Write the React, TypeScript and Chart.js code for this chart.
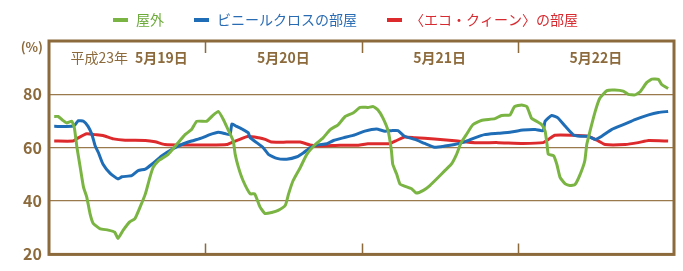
import React, { useEffect, useRef } from "react";
import { Chart, registerables } from "chart.js";

Chart.register(...registerables);

// ---- data (hours since 0:00 on 5/19, relative humidity %) ----
const outdoorHours = [0.8, 1.4, 2.0, 2.7, 3.5, 3.9, 4.3, 4.8, 5.3, 5.8, 6.3, 6.8, 7.8, 9.1, 10.1, 10.6, 11.4, 12.4, 13.2, 14.0, 14.8, 15.5, 16.0, 16.8, 18.3, 19.6, 20.9, 21.9, 22.7, 24.2, 25.0, 26.0, 26.8, 27.5, 28.3, 28.6, 29.1, 29.8, 30.9, 31.6, 32.4, 33.2, 34.2, 35.2, 36.3, 36.8, 37.5, 38.6, 39.6, 40.9, 42.1, 43.2, 44.4, 45.5, 46.7, 47.8, 49.0, 49.8, 50.5, 51.3, 52.1, 52.6, 52.8, 53.4, 53.9, 54.6, 55.7, 56.4, 57.5, 58.5, 59.8, 60.8, 61.8, 62.6, 63.3, 64.1, 65.1, 66.4, 68.5, 69.5, 70.8, 71.5, 72.6, 73.4, 74.1, 74.9, 75.7, 76.2, 76.5, 76.7, 77.5, 78.0, 78.5, 79.3, 80.0, 80.8, 81.6, 82.3, 82.6, 83.1, 83.9, 84.6, 85.7, 86.9, 88.2, 89.0, 90.0, 90.8, 91.8, 92.6, 93.6, 94.1, 95.1];
const outdoorValues = [71.7, 71.7, 70.5, 69.3, 69.9, 67.4, 60.0, 52.6, 45.2, 41.5, 35.3, 31.6, 29.7, 29.1, 28.3, 26.0, 29.1, 32.2, 33.4, 37.8, 42.7, 48.9, 52.6, 55.1, 57.5, 61.2, 64.9, 66.8, 69.9, 69.9, 71.7, 73.6, 70.5, 66.8, 62.5, 57.5, 52.6, 47.7, 42.7, 42.7, 37.8, 35.3, 35.7, 36.5, 38.4, 42.7, 47.7, 52.6, 57.5, 61.2, 63.7, 66.8, 68.6, 71.7, 73.0, 75.1, 75.1, 75.4, 74.2, 71.1, 66.2, 58.8, 53.8, 50.1, 46.4, 45.6, 44.6, 43.0, 44.0, 45.8, 48.9, 51.4, 53.8, 57.5, 61.9, 64.9, 68.6, 70.2, 70.9, 72.1, 72.3, 75.4, 76.0, 75.4, 71.1, 69.9, 68.6, 66.2, 61.2, 57.5, 57.0, 53.8, 48.9, 46.4, 45.8, 46.2, 50.1, 55.1, 61.2, 66.2, 73.6, 78.5, 81.4, 81.6, 81.2, 80.0, 79.8, 81.0, 84.4, 85.7, 85.6, 83.7, 82.2];

const vinylHours = [0.8, 3.5, 4.0, 4.5, 5.3, 6.0, 6.6, 7.1, 7.6, 8.3, 9.4, 10.6, 11.2, 12.7, 13.7, 14.8, 15.8, 17.3, 18.9, 20.4, 21.9, 23.5, 24.7, 26.0, 27.0, 27.8, 28.1, 28.8, 29.8, 30.6, 30.9, 31.9, 32.9, 33.7, 35.0, 36.5, 38.1, 39.1, 40.1, 41.1, 42.7, 43.7, 45.2, 46.7, 48.5, 50.3, 51.6, 52.6, 53.6, 54.6, 56.2, 57.7, 59.2, 60.8, 62.3, 63.9, 65.4, 66.9, 69.0, 71.0, 72.8, 74.7, 75.9, 76.2, 77.2, 78.2, 79.3, 80.5, 81.6, 82.8, 83.9, 84.9, 86.4, 88.5, 90.0, 92.1, 93.6, 95.1];
const vinylValues = [68.0, 68.0, 68.6, 70.1, 69.9, 68.0, 64.9, 60.6, 58.1, 53.8, 50.4, 48.3, 49.1, 49.5, 51.4, 52.0, 53.8, 56.9, 59.4, 61.2, 62.5, 63.7, 64.9, 65.8, 65.3, 64.9, 68.9, 68.0, 66.8, 65.6, 63.7, 61.9, 60.0, 57.5, 56.0, 55.7, 56.6, 58.1, 60.0, 61.0, 61.5, 62.7, 63.7, 64.6, 66.2, 67.0, 66.2, 66.4, 66.4, 64.3, 63.1, 61.6, 60.2, 60.6, 61.2, 62.2, 63.7, 64.9, 65.4, 65.9, 66.6, 66.8, 66.4, 69.9, 72.1, 71.1, 68.0, 64.9, 64.3, 64.3, 63.1, 64.3, 66.8, 68.9, 70.5, 72.3, 73.2, 73.6];

const ecoHours = [0.8, 3.7, 4.5, 5.8, 7.1, 8.3, 9.9, 11.7, 14.8, 16.3, 17.8, 20.9, 24.7, 27.3, 28.3, 29.3, 30.6, 32.2, 33.2, 34.2, 36.5, 38.6, 40.1, 41.6, 44.7, 47.5, 49.0, 52.3, 53.4, 54.6, 56.2, 59.2, 62.8, 65.4, 69.0, 72.8, 75.9, 76.7, 77.7, 80.3, 82.8, 84.4, 85.4, 88.5, 90.5, 92.1, 95.1];
const ecoValues = [62.5, 62.5, 63.7, 65.2, 64.9, 64.6, 63.3, 62.8, 62.7, 62.2, 61.2, 61.0, 61.0, 61.2, 62.2, 63.1, 64.3, 63.7, 63.1, 62.1, 62.1, 62.1, 61.0, 60.6, 60.9, 60.9, 61.5, 61.5, 62.7, 64.0, 63.7, 63.3, 62.5, 61.9, 61.9, 61.6, 61.9, 63.1, 64.7, 64.7, 64.3, 62.5, 61.2, 61.2, 61.9, 62.7, 62.5];

const seriesNames = ["屋外", "ビニールクロスの部屋", "〈エコ・クィーン〉の部屋"];
const dayLabels = ["5月19日", "5月20日", "5月21日", "5月22日"];
const eraLabel = "平成23年";
const yUnitLabel = "(%)";
const dayBoundaries = [24, 48, 72];
const dayCenters = [12, 36, 60, 84];

// ---- styles ----
const GREEN = "#7ab442";
const BLUE = "#1f6db6";
const RED = "#dd2a2c";
const BROWN = "#8c6a3c";
const GRID = "#9a7a4c";
const LEGEND_TEXT = ["#6caa3a", "#2a6cb4", "#d72a30"];
const FONT = '"Noto Sans CJK JP", "Noto Sans", sans-serif';

function toPoints(xs: number[], ys: number[]) {
  return xs.map((x, i) => ({ x, y: ys[i] }));
}

const decorPlugin = {
  id: "decor",
  afterDraw(chart: any) {
    const { ctx, chartArea: a, scales } = chart;
    const x = scales.x;
    const y = scales.y;
    ctx.save();

    // frame
    ctx.strokeStyle = BROWN;
    ctx.lineWidth = 3;
    ctx.strokeRect(a.left, a.top, a.right - a.left, a.bottom - a.top);

    // day separator ticks
    ctx.lineWidth = 1.5;
    dayBoundaries.forEach((h) => {
      const px = Math.round(x.getPixelForValue(h)) + 0.5;
      ctx.beginPath();
      ctx.moveTo(px, a.top);
      ctx.lineTo(px, a.top + 12);
      ctx.moveTo(px, a.bottom - 11);
      ctx.lineTo(px, a.bottom);
      ctx.stroke();
    });

    // date labels
    ctx.fillStyle = BROWN;
    ctx.textBaseline = "middle";
    const ly = a.top + 17;
    dayCenters.forEach((h, i) => {
      const cx = x.getPixelForValue(h);
      ctx.font = `bold 14px ${FONT}`;
      const dw = ctx.measureText(dayLabels[i]).width;
      if (i === 0) {
        ctx.font = `14px ${FONT}`;
        const ew = ctx.measureText(eraLabel).width;
        const gap = 7;
        const total = ew + gap + dw;
        const sx = cx - total / 2 + 2;
        ctx.textAlign = "left";
        ctx.fillText(eraLabel, sx, ly);
        ctx.font = `bold 14px ${FONT}`;
        ctx.fillText(dayLabels[i], sx + ew + gap, ly);
      } else {
        ctx.textAlign = "center";
        ctx.fillText(dayLabels[i], cx, ly);
      }
    });

    // unit label
    ctx.font = `bold 13px ${FONT}`;
    ctx.textAlign = "right";
    ctx.fillText(yUnitLabel, a.left - 6, y.getPixelForValue(100) + 6);

    // legend
    const colors = [GREEN, BLUE, RED];
    ctx.font = `14px ${FONT}`;
    const dash = 15;
    const dashGap = 8;
    const itemGap = 30;
    const widths = seriesNames.map((s) => ctx.measureText(s).width);
    const total =
      widths.reduce((p, w) => p + w + dash + dashGap, 0) + itemGap * (seriesNames.length - 1);
    let sx = chart.width / 2 + 4 - total / 2;
    const legY = 20;
    seriesNames.forEach((s, i) => {
      ctx.fillStyle = colors[i];
      ctx.fillRect(sx, legY - 2, dash, 4);
      sx += dash + dashGap;
      ctx.fillStyle = LEGEND_TEXT[i];
      ctx.textAlign = "left";
      ctx.fillText(s, sx, legY);
      sx += widths[i] + itemGap;
    });

    ctx.restore();
  },
};

export default function App() {
  const canvasRef = useRef<HTMLCanvasElement | null>(null);

  useEffect(() => {
    document.body.style.margin = "0";
    const canvas = canvasRef.current;
    if (!canvas) return;
    const chart = new Chart(canvas, {
      type: "line",
      data: {
        datasets: [
          {
            label: seriesNames[0],
            data: toPoints(outdoorHours, outdoorValues),
            borderColor: GREEN,
            backgroundColor: GREEN,
            borderWidth: 3,
            pointRadius: 0,
            tension: 0.15,
          },
          {
            label: seriesNames[1],
            data: toPoints(vinylHours, vinylValues),
            borderColor: BLUE,
            backgroundColor: BLUE,
            borderWidth: 3,
            pointRadius: 0,
            tension: 0.15,
          },
          {
            label: seriesNames[2],
            data: toPoints(ecoHours, ecoValues),
            borderColor: RED,
            backgroundColor: RED,
            borderWidth: 3,
            pointRadius: 0,
            tension: 0.15,
          },
        ],
      },
      options: {
        animation: false,
        responsive: true,
        maintainAspectRatio: false,
        layout: { padding: { top: 41, right: 9, bottom: 13, left: 0 } },
        plugins: {
          legend: { display: false },
          tooltip: { enabled: false },
        },
        scales: {
          x: {
            type: "linear",
            min: 0,
            max: 96,
            display: false,
          },
          y: {
            min: 20,
            max: 100,
            afterFit: (s: any) => {
              s.width = 49;
            },
            ticks: {
              stepSize: 20,
              color: BROWN,
              padding: 7,
              font: { family: FONT, size: 16, weight: "bold" },
              callback: (v: any) => (v === 100 ? "" : String(v)),
            },
            grid: {
              color: GRID,
              lineWidth: 1.2,
              drawTicks: false,
            },
            border: { display: false },
          },
        },
      },
      plugins: [decorPlugin],
    } as any);
    return () => chart.destroy();
  }, []);

  return (
    <div style={{ position: "relative", width: 683, height: 271 }}>
      <canvas ref={canvasRef} />
    </div>
  );
}
